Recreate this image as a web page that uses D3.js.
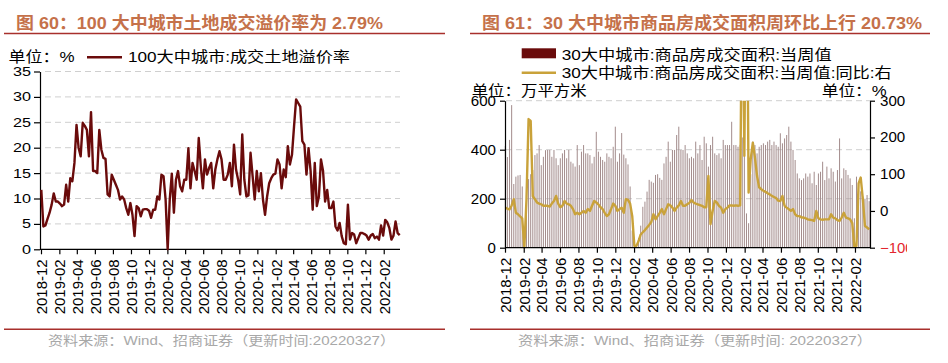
<!DOCTYPE html>
<html><head><meta charset="utf-8">
<script src="https://cdn.jsdelivr.net/npm/d3@7"></script>
<style>body{margin:0;background:#fff}svg{display:block}</style>
</head><body>
<svg id="c" width="948" height="363"></svg>
<script>
// ---------- data ----------
const weekStart = "2018-12-02";
const tickLabels = ["2018-12","2019-02","2019-04","2019-06","2019-08","2019-10","2019-12","2020-02","2020-04","2020-06","2020-08","2020-10","2020-12","2021-02","2021-04","2021-06","2021-08","2021-10","2021-12","2022-02"];
const leftYTicks = [0,5,10,15,20,25,30,35];
const rightYTicksL = [0,200,400,600];
const rightYTicksR = [-100,0,100,200,300];

// 100大中城市:成交土地溢价率 (%), weekly
const landPremium = [11.7,4.5,4.7,6.0,7.2,8.8,11.0,9.4,9.4,9.0,
8.5,8.8,12.7,9.4,14.0,13.4,17.0,24.5,20.0,18.3,
24.9,24.3,23.5,18.3,27.0,15.4,15.4,15.0,23.5,19.6,
18.0,17.8,10.8,10.4,14.7,13.7,12.7,11.7,9.8,10.4,
9.8,8.1,6.8,9.1,6.8,2.6,8.5,8.1,6.5,7.8,
7.9,7.9,7.6,6.2,7.8,7.8,10.4,9.8,14.7,14.4,
9.8,0.0,9.8,14.9,7.2,13.7,15.4,12.4,11.4,13.7,
13.7,19.9,12.0,17.0,15.4,13.7,21.9,16.3,12.0,17.7,
14.7,16.0,17.0,12.0,15.7,17.7,19.3,17.7,13.7,13.7,
14.7,17.0,12.4,20.6,15.7,13.7,10.8,22.6,13.7,10.4,
10.6,19.0,14.4,9.8,15.4,11.4,15.0,9.8,6.8,10.4,
13.0,14.0,14.7,14.9,17.7,16.7,12.0,15.7,14.2,20.3,
16.7,18.6,24.2,29.5,28.8,28.1,21.3,20.6,14.7,19.9,
15.4,7.8,17.0,8.5,10.4,17.7,15.4,9.4,11.7,8.1,
8.1,9.4,4.5,3.7,5.2,2.6,1.2,1.0,8.8,1.9,
3.2,2.9,1.2,2.2,3.2,3.2,3.0,2.7,1.9,2.7,
3.0,2.2,2.5,1.9,4.7,2.7,5.8,5.3,4.2,1.9,
2.7,5.5,3.2,2.79];

// 30大中城市:商品房成交面积:当周值 (万平方米)
const areaWeekly = [415,370,440,582,260,290,295,297,250,30,
150,280,300,317,378,385,419,337,371,398,
399,399,371,399,365,337,365,385,399,365,
399,351,344,331,419,337,392,419,385,385,
378,344,371,473,392,371,358,351,385,371,
365,412,494,351,385,468,380,365,340,250,
70,15,15,40,90,167,188,229,277,270,
265,297,300,285,277,344,371,433,351,399,
399,460,494,399,399,419,385,365,371,365,
433,385,419,358,453,426,331,419,453,385,
378,385,365,440,419,419,419,514,419,419,
412,420,450,380,140,100,300,433,419,385,
412,419,426,419,433,440,419,433,419,412,
467,426,446,460,494,433,399,358,303,283,
276,283,303,290,303,263,310,256,303,310,
351,276,331,283,324,310,270,317,446,283,
324,317,297,283,256,120,290,236,230,209,
200,215,190];

// 30大中城市:商品房成交面积:当周值:同比 (%), right axis
const areaYoY = [9,6,4,15,32,-5,-9,-15,-20,-100,
30,250,245,40,32,23,20,18,14,14,
14,12,20,27,41,20,10,14,27,20,
18,14,5,-9,-5,-9,-5,0,-5,5,
0,14,27,23,18,10,5,-5,-14,-9,
5,20,14,0,5,9,-5,32,30,20,
-14,-95,-95,-82,-64,-58,-52,-45,-38,-30,
-9,-23,-14,-5,5,-9,5,18,15,9,
0,9,15,27,14,14,18,22,30,23,
20,18,16,14,10,10,95,-36,0,27,
23,14,9,-5,5,9,15,15,14,15,
14,15,700,150,900,50,141,186,145,95,
64,59,55,52,48,45,41,38,35,28,
27,41,14,9,5,0,5,-9,-14,-14,
-18,-18,-20,-23,-24,-25,-27,0,-20,-23,
-24,-23,-23,-23,-9,-18,-20,-25,-27,-18,
-5,-18,-20,-23,-33,-98,-95,75,91,32,
-41,-45,-50];

// ---------- helpers ----------
const FF = "'Liberation Sans','Noto Sans CJK SC',sans-serif";
const svg = d3.select('#c');
const parseM = d3.utcParse('%Y-%m');
const parseD = d3.utcParse('%Y-%m-%d');
const t0 = parseD(weekStart);
const weekDate = i => d3.utcDay.offset(t0, 7 * i);
const tickDates = tickLabels.map(parseM);
const domainX = [parseD('2018-12-01'), parseD('2022-03-28')];

function label(g, s, x, y, o = {}) {
  const t = g.append('text').attr('x', x).attr('y', y).text(s)
    .attr('font-family', o.ff || FF).attr('font-size', o.size || 14)
    .attr('fill', o.fill || '#000');
  if (o.weight) t.attr('font-weight', o.weight);
  if (o.anchor) t.attr('text-anchor', o.anchor);
  if (o.len) t.attr('textLength', o.len).attr('lengthAdjust', 'spacingAndGlyphs');
  return t;
}
function styleAxis(g) {
  g.select('.domain').attr('stroke', '#000').attr('stroke-width', 1.2);
  g.selectAll('.tick line').attr('stroke', '#000').attr('stroke-width', 1.2);
}
function numLabels(g, perChar, size) {
  g.selectAll('.tick text').attr('font-family', FF).attr('font-size', size).attr('fill', '#000')
    .each(function () {
      const s = this.textContent;
      d3.select(this).attr('textLength', s.length * perChar).attr('lengthAdjust', 'spacingAndGlyphs');
    });
}
function dateAxis(g, x) {
  g.call(d3.axisBottom(x).tickValues(tickDates).tickSize(5).tickSizeOuter(0)
    .tickFormat((d, i) => tickLabels[i]));
  styleAxis(g);
  g.selectAll('.tick text').attr('font-family', FF).attr('font-size', 15).attr('fill', '#000')
    .attr('transform', 'rotate(-90)').attr('text-anchor', 'end')
    .attr('x', -10).attr('y', 0).attr('dy', '0.36em');
}
function frame(x1, x2, title, titleLen, source, srcX, srcLen) {
  label(svg, title, x1 + 12, 28.5, { size: 17, weight: 'bold', fill: '#c5714a', len: titleLen });
  svg.append('line').attr('x1', x1).attr('x2', x2).attr('y1', 33.5).attr('y2', 33.5)
    .attr('stroke', '#a8302c').attr('stroke-width', 1.6);
  svg.append('line').attr('x1', x1).attr('x2', x2).attr('y1', 329.3).attr('y2', 329.3)
    .attr('stroke', '#a8302c').attr('stroke-width', 1.6);
  label(svg, source, srcX, 344.5, { size: 13, fill: '#a8a8a8', len: srcLen });
}

// ---------- left chart ----------
frame(4, 445, '图 60：100 大中城市土地成交溢价率为 2.79%', 367,
  '资料来源：Wind、招商证券（更新时间:20220327）', 48, 347);

const xL = d3.scaleTime().domain(domainX).range([41, 400]);
const yL = d3.scaleLinear().domain([0, 35]).range([249.3, 71.5]);

const gL = svg.append('g');
gL.selectAll('line.grid').data(leftYTicks.filter(d => d > 0)).join('line')
  .attr('x1', 45).attr('x2', 400).attr('y1', d => yL(d)).attr('y2', d => yL(d))
  .attr('stroke', '#cfcfcf').attr('stroke-width', 1).attr('stroke-dasharray', '6,4');

const axL = gL.append('g').attr('transform', 'translate(40,0)')
  .call(d3.axisLeft(yL).tickValues(leftYTicks).tickSize(6).tickSizeOuter(0).tickPadding(3));
styleAxis(axL); numLabels(axL, 9, 12.5);

const axLB = gL.append('g').attr('transform', `translate(0,${yL(0)})`);
axLB.call(g => dateAxis(g, xL));
axLB.select('.domain').attr('d', `M40,0H400`);

gL.append('path').datum(landPremium)
  .attr('d', d3.line().x((d, i) => xL(weekDate(i))).y(d => yL(d)))
  .attr('fill', 'none').attr('stroke', '#6a0b0b').attr('stroke-width', 2.4)
  .attr('stroke-linejoin', 'round');

label(svg, '单位：%', 8.5, 61.5, { size: 15, len: 66 });
svg.append('line').attr('x1', 87).attr('x2', 122).attr('y1', 57.3).attr('y2', 57.3)
  .attr('stroke', '#6a0b0b').attr('stroke-width', 2.6);
label(svg, '100大中城市:成交土地溢价率', 128, 62, { size: 15, len: 222 });

// ---------- right chart ----------
frame(470, 930, '图 61：30 大中城市商品房成交面积周环比上行 20.73%', 440,
  '资料来源：Wind、招商证券（更新时间: 20220327）', 518, 354);

const xR = d3.scaleTime().domain(domainX).range([505, 871.6]);
const yRL = d3.scaleLinear().domain([0, 600]).range([247.7, 100.7]);
const yRR = d3.scaleLinear().domain([-100, 300]).range([247.7, 100.7]);

const gR = svg.append('g');
gR.selectAll('line.grid').data(rightYTicksL.filter(d => d > 0)).join('line')
  .attr('x1', 506).attr('x2', 870).attr('y1', d => yRL(d)).attr('y2', d => yRL(d))
  .attr('stroke', '#cfcfcf').attr('stroke-width', 1).attr('stroke-dasharray', '6,4');

gR.selectAll('rect.bar').data(areaWeekly).join('rect')
  .attr('x', (d, i) => xR(weekDate(i)) - 0.5).attr('width', 1)
  .attr('y', d => yRL(d)).attr('height', d => yRL(0) - yRL(d))
  .attr('fill', '#a38c8c');

svg.append('clipPath').attr('id', 'plotR').append('rect')
  .attr('x', 505).attr('y', 100.7).attr('width', 366).attr('height', 148);
gR.append('path').datum(areaYoY)
  .attr('clip-path', 'url(#plotR)')
  .attr('d', d3.line().x((d, i) => xR(weekDate(i))).y(d => yRR(d)))
  .attr('fill', 'none').attr('stroke', '#c9a23a').attr('stroke-width', 2.4)
  .attr('stroke-linejoin', 'round');

const axRL = gR.append('g').attr('transform', 'translate(505,0)')
  .call(d3.axisLeft(yRL).tickValues(rightYTicksL).tickSize(5).tickSizeOuter(0).tickPadding(4));
styleAxis(axRL); numLabels(axRL, 8.4, 14);

// right axis labels are cut at the panel edge (x = 907) as in the source
svg.append('clipPath').attr('id', 'rAx').append('rect')
  .attr('x', -10).attr('y', 80).attr('width', 47).attr('height', 190);
const axRR = gR.append('g').attr('transform', 'translate(870,0)').attr('clip-path', 'url(#rAx)')
  .call(d3.axisRight(yRR).tickValues(rightYTicksR).tickSize(5).tickSizeOuter(0).tickPadding(5));
styleAxis(axRR); numLabels(axRR, 8.4, 14);
axRR.selectAll('.tick text').filter(d => d < 0).attr('fill', '#e3262f');

const axRB = gR.append('g').attr('transform', `translate(0,${yRL(0)})`);
axRB.call(g => dateAxis(g, xR));
axRB.select('.domain').attr('d', `M505,0H870`);

svg.append('rect').attr('x', 521.7).attr('y', 48.3).attr('width', 34.3).attr('height', 10)
  .attr('fill', '#6a0b0b');
label(svg, '30大中城市:商品房成交面积:当周值', 561.7, 59.5, { size: 15, len: 270 });
svg.append('line').attr('x1', 521.7).attr('x2', 556).attr('y1', 72.7).attr('y2', 72.7)
  .attr('stroke', '#c9a23a').attr('stroke-width', 2.4);
label(svg, '30大中城市:商品房成交面积:当周值:同比:右', 561.7, 78.3, { size: 15, len: 330 });
label(svg, '单位：万平方米', 471.7, 95.5, { size: 14.5, len: 115 });
label(svg, '单位：%', 821.7, 95.5, { size: 14.5, len: 65 });
</script>
</body></html>
